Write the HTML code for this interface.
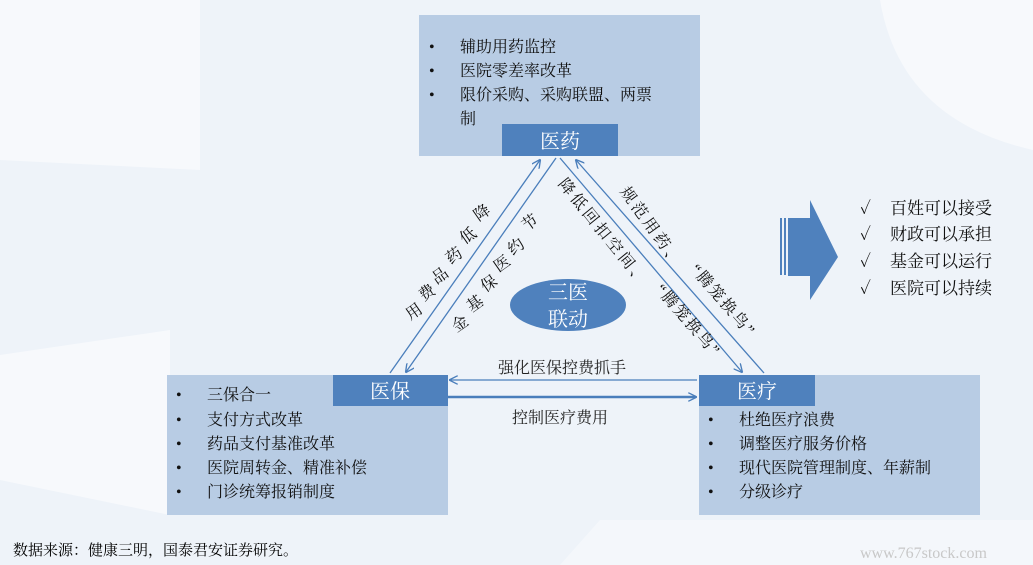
<!DOCTYPE html>
<html><head><meta charset="utf-8"><style>
body{margin:0;width:1033px;height:565px;overflow:hidden;background:#eef3f9;font-family:"Liberation Serif","Noto Serif CJK SC",serif;}
svg{display:block}
text{font-family:"Liberation Serif","Noto Serif CJK SC",serif;}
</style></head><body>
<svg width="1033" height="565" viewBox="0 0 1033 565" xmlns="http://www.w3.org/2000/svg">
<defs>
<marker id="ar" viewBox="0 0 10 10" refX="9" refY="5" markerWidth="9" markerHeight="9" orient="auto-start-reverse" markerUnits="userSpaceOnUse"><path d="M0,0 L10,5 L0,10" fill="none" stroke="#4a7ebb" stroke-width="1.5"/></marker>
</defs>
<rect width="1033" height="565" fill="#eef3f9"/>
<path d="M0,0 H200 V170 L0,160 Z" fill="#f7f9fc"/>
<path d="M0,355 L170,330 L170,515 L0,480 Z" fill="#f7f9fc"/>
<path d="M880,0 H1033 V150 Q900,120 880,0 Z" fill="#f7f9fc"/>
<path d="M600,520 L1033,520 L1033,565 L560,565 Z" fill="#f4f7fb"/>
<!-- boxes -->
<rect x="419" y="15" width="281" height="141" fill="#b8cce4"/>
<rect x="502" y="124" width="116" height="32" fill="#4f81bd"/>
<text x="560" y="148" font-size="20" fill="#fff" text-anchor="middle">医药</text>
<rect x="167" y="375" width="281" height="140" fill="#b8cce4"/>
<rect x="333" y="375" width="115" height="31" fill="#4f81bd"/>
<text x="390" y="398" font-size="20" fill="#fff" text-anchor="middle">医保</text>
<rect x="699" y="375" width="281" height="140" fill="#b8cce4"/>
<rect x="699" y="375" width="116" height="31" fill="#4f81bd"/>
<text x="757" y="398" font-size="20" fill="#fff" text-anchor="middle">医疗</text>
<g font-size="16" fill="#111">
<text x="429" y="52">•</text><text x="460" y="52">辅助用药监控</text>
<text x="429" y="76">•</text><text x="460" y="76">医院零差率改革</text>
<text x="429" y="100">•</text><text x="460" y="100">限价采购、采购联盟、两票</text>
<text x="460" y="124">制</text>
<text x="176" y="400">•</text><text x="207" y="400">三保合一</text>
<text x="176" y="425">•</text><text x="207" y="425">支付方式改革</text>
<text x="176" y="449">•</text><text x="207" y="449">药品支付基准改革</text>
<text x="176" y="473">•</text><text x="207" y="473">医院周转金、精准补偿</text>
<text x="176" y="497">•</text><text x="207" y="497">门诊统筹报销制度</text>
<text x="708" y="425">•</text><text x="739" y="425">杜绝医疗浪费</text>
<text x="708" y="449">•</text><text x="739" y="449">调整医疗服务价格</text>
<text x="708" y="473">•</text><text x="739" y="473">现代医院管理制度、年薪制</text>
<text x="708" y="497">•</text><text x="739" y="497">分级诊疗</text>
</g>
<!-- connectors -->
<g stroke="#4a7ebb" stroke-width="1.3" fill="none">
<line x1="390" y1="373" x2="540" y2="160" marker-end="url(#ar)"/>
<line x1="556" y1="158" x2="406" y2="372" marker-end="url(#ar)"/>
<line x1="560" y1="158" x2="742" y2="372" marker-end="url(#ar)"/>
<line x1="764" y1="373" x2="576" y2="160" marker-end="url(#ar)"/>
<line x1="697" y1="380" x2="450" y2="380" marker-end="url(#ar)"/>
<line x1="448" y1="397" x2="696" y2="397" stroke-width="2.5" marker-end="url(#ar)"/>
</g>
<ellipse cx="568" cy="305" rx="58" ry="26" fill="#4f81bd"/>
<text x="568" y="299" font-size="20" fill="#fff" text-anchor="middle">三医</text>
<text x="568" y="326" font-size="20" fill="#fff" text-anchor="middle">联动</text>
<g font-size="16" fill="#111" text-anchor="middle">
<text transform="translate(485,217) rotate(-35)">降</text>
<text transform="translate(471,240) rotate(-35)">低</text>
<text transform="translate(457,260) rotate(-35)">药</text>
<text transform="translate(443,280) rotate(-35)">品</text>
<text transform="translate(430,297) rotate(-35)">费</text>
<text transform="translate(417,316) rotate(-35)">用</text>
<text transform="translate(533,227) rotate(-35)">节</text>
<text transform="translate(519,251) rotate(-35)">约</text>
<text transform="translate(505,268) rotate(-35)">医</text>
<text transform="translate(492,288) rotate(-35)">保</text>
<text transform="translate(478,308) rotate(-35)">基</text>
<text transform="translate(463,328) rotate(-35)">金</text>
</g>
<g font-size="16" fill="#111" dominant-baseline="central" style="font-family:'Noto Serif CJK SC',serif">
<text transform="translate(561,181) rotate(51)" letter-spacing="3">降低回扣空间、</text>
<text transform="translate(658,287) rotate(49)" letter-spacing="2">“腾笼换鸟”</text>
<text transform="translate(623,189) rotate(54)" letter-spacing="3">规范用药、</text>
<text transform="translate(693,267) rotate(49)" letter-spacing="2">“腾笼换鸟”</text>
</g>
<text x="562" y="373" font-size="16" fill="#222" text-anchor="middle">强化医保控费抓手</text>
<text x="560" y="423" font-size="16" fill="#222" text-anchor="middle">控制医疗费用</text>
<!-- big arrow -->
<rect x="780" y="218" width="2" height="57" fill="#4f81bd"/>
<rect x="784" y="218" width="2" height="57" fill="#4f81bd"/>
<path d="M788,218 H810 V200 L838,257 L810,300 V276 H788 Z" fill="#4f81bd"/>
<g font-size="17" fill="#111">
<text x="860" y="214" font-family="DejaVu Sans,sans-serif">✓</text><text x="890" y="214">百姓可以接受</text>
<text x="860" y="240" font-family="DejaVu Sans,sans-serif">✓</text><text x="890" y="240">财政可以承担</text>
<text x="860" y="267" font-family="DejaVu Sans,sans-serif">✓</text><text x="890" y="267">基金可以运行</text>
<text x="860" y="294" font-family="DejaVu Sans,sans-serif">✓</text><text x="890" y="294">医院可以持续</text>
</g>
<text x="13" y="555" font-size="15" fill="#000" font-family="Liberation Sans,Noto Sans CJK SC,sans-serif">数据来源：健康三明，国泰君安证券研究。</text>
<text x="860" y="558" font-size="16" fill="#c8c8c8" font-family="Liberation Sans,sans-serif">www.767stock.com</text>
</svg>
</body></html>
